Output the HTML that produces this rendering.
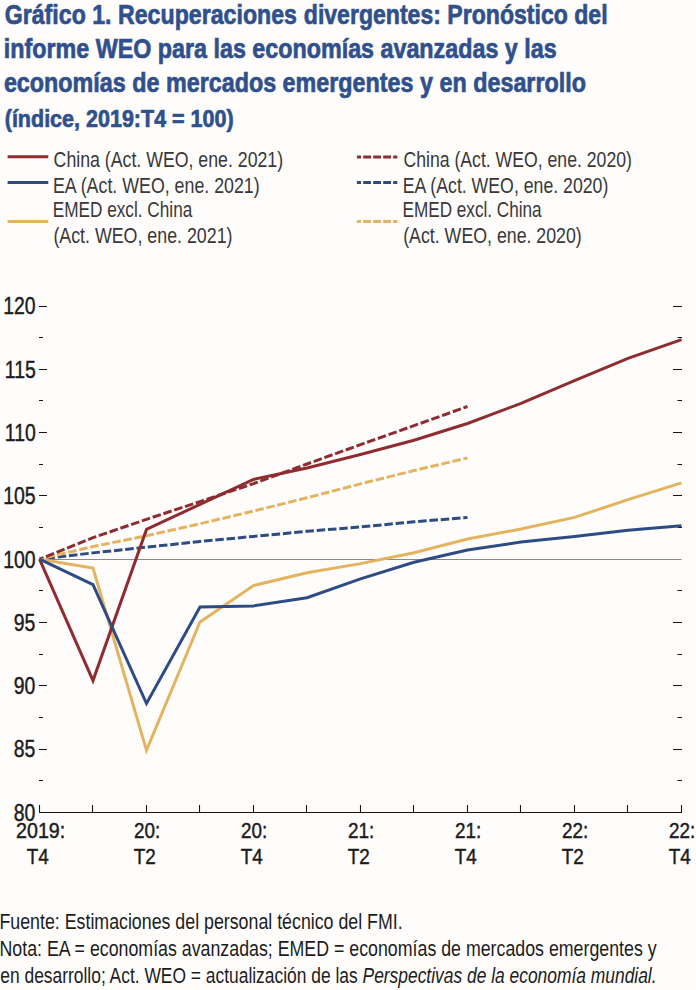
<!DOCTYPE html>
<html lang="es"><head><meta charset="utf-8"><title>Gráfico 1. Recuperaciones divergentes</title>
<style>
html,body{margin:0;padding:0;background:#fefdfc;}
body{width:696px;height:990px;overflow:hidden;}
svg{display:block;font-family:'Liberation Sans', 'DejaVu Sans', sans-serif;}
</style></head><body>
<svg width="696" height="990" viewBox="0 0 696 990">
<rect width="696" height="990" fill="#fefdfc"/>
<g stroke-width="3" fill="none">
<line x1="7.6" y1="156.8" x2="48.3" y2="156.8" stroke="#8e2c30"/>
<line x1="7.6" y1="182.4" x2="48.3" y2="182.4" stroke="#2f4b83"/>
<line x1="7.6" y1="221.4" x2="48.3" y2="221.4" stroke="#e3b35f"/>
<line x1="356.9" y1="156.9" x2="397.3" y2="156.9" stroke="#8e2c30" stroke-dasharray="7.8 2.2" stroke-dashoffset="3.7"/>
<line x1="356.9" y1="182.5" x2="397.3" y2="182.5" stroke="#2f4b83" stroke-dasharray="7.8 2.2" stroke-dashoffset="3.7"/>
<line x1="356.9" y1="221.4" x2="397.3" y2="221.4" stroke="#e3b35f" stroke-dasharray="7.8 2.2" stroke-dashoffset="3.7"/>
</g>
<line x1="39.5" y1="559.5" x2="681.5" y2="559.5" stroke="#8a8a8a" stroke-width="1"/>
<path d="M39,780.5h4 M682,780.5h-4.5 M39,749.5h8 M682,749.5h-9 M39,717.5h4 M682,717.5h-4.5 M39,685.5h8 M682,685.5h-9 M39,654.5h4 M682,654.5h-4.5 M39,622.5h8 M682,622.5h-9 M39,590.5h4 M682,590.5h-4.5 M39,527.5h4 M682,527.5h-4.5 M39,495.5h8 M682,495.5h-9 M39,464.5h4 M682,464.5h-4.5 M39,432.5h8 M682,432.5h-9 M39,400.5h4 M682,400.5h-4.5 M39,369.5h8 M682,369.5h-9 M39,337.5h4 M682,337.5h-4.5 M39,306.5h8 M682,306.5h-9 M39.5,812V805 M92.5,812V805 M146.5,812V805 M199.5,812V805 M253.5,812V805 M306.5,812V805 M360.5,812V805 M413.5,812V805 M467.5,812V805 M520.5,812V805 M574.5,812V805 M627.5,812V805 M681.5,812V805" stroke="#151515" stroke-width="1.1" fill="none"/>
<line x1="39" y1="812.5" x2="682" y2="812.5" stroke="#151515" stroke-width="1.2"/>
<g fill="none" stroke-width="3" stroke-linejoin="miter" stroke-miterlimit="10">
<polyline points="39.50,559.20 93.00,552.87 146.50,547.17 200.00,541.48 253.50,536.41 307.00,531.35 360.50,526.92 414.00,521.85 467.50,517.42" stroke="#2f4b83" stroke-dasharray="8.545 2.773" stroke-dashoffset="4.272"/>
<polyline points="39.50,559.20 93.00,546.54 146.50,535.78 200.00,523.75 253.50,511.09 307.00,497.80 360.50,483.87 414.00,470.58 467.50,457.92" stroke="#e3b35f" stroke-dasharray="8.516 2.763" stroke-dashoffset="4.258"/>
<polyline points="39.50,559.20 93.00,537.68 146.50,519.32 200.00,501.60 253.50,483.62 307.00,464.00 360.50,444.63 414.00,425.64 467.50,406.52" stroke="#8e2c30" stroke-dasharray="8.579 2.784" stroke-dashoffset="4.289"/>
<polyline points="39.50,559.20 93.00,568.06 146.50,750.37 200.00,621.99 253.50,585.53 307.00,572.75 360.50,563.63 414.00,552.74 467.50,538.94 521.00,529.07 574.50,517.42 628.00,499.70 681.50,482.86" stroke="#e3b35f"/>
<polyline points="39.50,559.20 93.00,680.61 146.50,529.45 200.00,504.38 253.50,479.44 307.00,468.05 360.50,454.50 414.00,440.20 467.50,423.48 521.00,403.36 574.50,380.69 628.00,358.29 681.50,339.68" stroke="#8e2c30"/>
<polyline points="39.50,559.20 93.00,584.65 146.50,703.52 200.00,606.93 253.50,605.92 307.00,597.69 360.50,578.82 414.00,562.24 467.50,550.08 521.00,541.98 574.50,536.54 628.00,530.21 681.50,525.78" stroke="#2f4b83"/>
</g>
<text stroke="#30508c" stroke-width="0.7" transform="translate(4.69,23.9) scale(0.8129,1)" font-size="28.5" font-weight="bold" font-style="normal" fill="#30508c">Gráfico 1. Recuperaciones</text>
<text stroke="#30508c" stroke-width="0.7" transform="translate(303.79,23.9) scale(0.8097,1)" font-size="28.5" font-weight="bold" font-style="normal" fill="#30508c">divergentes: Pronóstico del</text>
<text stroke="#30508c" stroke-width="0.7" transform="translate(3.86,57.6) scale(0.8178,1)" font-size="28.5" font-weight="bold" font-style="normal" fill="#30508c">informe WEO para las economías avanzadas y las</text>
<text stroke="#30508c" stroke-width="0.7" transform="translate(3.88,91.7) scale(0.819,1)" font-size="28.5" font-weight="bold" font-style="normal" fill="#30508c">economías de mercados emergentes y en desarrollo</text>
<text stroke="#30508c" stroke-width="0.7" transform="translate(4.72,127.4) scale(0.8784,1)" font-size="24.5" font-weight="bold" font-style="normal" fill="#30508c">(índice, 2019:T4 = 100)</text>
<text transform="translate(53.6,167.0) scale(0.7989,1)" font-size="22.2" font-weight="normal" font-style="normal" fill="#383838">China (Act. WEO, ene. 2021)</text>
<text transform="translate(53.0,192.5) scale(0.802,1)" font-size="22.2" font-weight="normal" font-style="normal" fill="#383838">EA (Act. WEO, ene. 2021)</text>
<text transform="translate(52.65,216.5) scale(0.7753,1)" font-size="22.2" font-weight="normal" font-style="normal" fill="#383838">EMED excl. China</text>
<text transform="translate(53.4,242.5) scale(0.8027,1)" font-size="22.2" font-weight="normal" font-style="normal" fill="#383838">(Act. WEO, ene. 2021)</text>
<text transform="translate(403.4,167.0) scale(0.7954,1)" font-size="22.2" font-weight="normal" font-style="normal" fill="#383838">China (Act. WEO, ene. 2020)</text>
<text transform="translate(402.8,192.5) scale(0.7976,1)" font-size="22.2" font-weight="normal" font-style="normal" fill="#383838">EA (Act. WEO, ene. 2020)</text>
<text transform="translate(402.45,216.5) scale(0.7736,1)" font-size="22.2" font-weight="normal" font-style="normal" fill="#383838">EMED excl. China</text>
<text transform="translate(403.2,242.5) scale(0.8,1)" font-size="22.2" font-weight="normal" font-style="normal" fill="#383838">(Act. WEO, ene. 2020)</text>
<text transform="translate(-0.54,928.7) scale(0.8199,1)" font-size="21.7" font-weight="normal" font-style="normal" fill="#1c1c1c">Fuente: Estimaciones del personal técnico del FMI.</text>
<text transform="translate(-0.54,956.0) scale(0.8199,1)" font-size="21.7" font-weight="normal" font-style="normal" fill="#1c1c1c">Nota: EA = economías avanzadas; EMED = economías de mercados emergentes y</text>
<text transform="translate(0.3,982.6) scale(0.8027,1)" font-size="21.7" font-weight="normal" font-style="normal" fill="#1c1c1c">en desarrollo; Act. WEO = actualización de las <tspan font-style="italic">Perspectivas de la economía mundial.</tspan></text>
<text stroke="#1c1c1c" stroke-width="0.45" transform="translate(13.74,820.7) scale(0.81,1)" font-size="24" font-weight="normal" font-style="normal" fill="#1c1c1c">80</text>
<text stroke="#1c1c1c" stroke-width="0.45" transform="translate(13.74,757.4) scale(0.81,1)" font-size="24" font-weight="normal" font-style="normal" fill="#1c1c1c">85</text>
<text stroke="#1c1c1c" stroke-width="0.45" transform="translate(13.74,694.1) scale(0.81,1)" font-size="24" font-weight="normal" font-style="normal" fill="#1c1c1c">90</text>
<text stroke="#1c1c1c" stroke-width="0.45" transform="translate(13.74,630.8) scale(0.81,1)" font-size="24" font-weight="normal" font-style="normal" fill="#1c1c1c">95</text>
<text stroke="#1c1c1c" stroke-width="0.45" transform="translate(3.21,567.5) scale(0.81,1)" font-size="24" font-weight="normal" font-style="normal" fill="#1c1c1c">100</text>
<text stroke="#1c1c1c" stroke-width="0.45" transform="translate(3.21,504.2) scale(0.81,1)" font-size="24" font-weight="normal" font-style="normal" fill="#1c1c1c">105</text>
<text stroke="#1c1c1c" stroke-width="0.45" transform="translate(4.83,440.9) scale(0.81,1)" font-size="24" font-weight="normal" font-style="normal" fill="#1c1c1c">110</text>
<text stroke="#1c1c1c" stroke-width="0.45" transform="translate(4.83,377.6) scale(0.81,1)" font-size="24" font-weight="normal" font-style="normal" fill="#1c1c1c">115</text>
<text stroke="#1c1c1c" stroke-width="0.45" transform="translate(3.21,314.3) scale(0.81,1)" font-size="24" font-weight="normal" font-style="normal" fill="#1c1c1c">120</text>
<text stroke="#1c1c1c" stroke-width="0.45" transform="translate(16.01,837.7) scale(0.8865,1)" font-size="22.2" font-weight="normal" font-style="normal" fill="#1c1c1c">2019:</text>
<text stroke="#1c1c1c" stroke-width="0.45" transform="translate(26.65,864.0) scale(0.85,1)" font-size="22.2" font-weight="normal" font-style="normal" fill="#1c1c1c">T4</text>
<text stroke="#1c1c1c" stroke-width="0.45" transform="translate(134.05,837.7) scale(0.85,1)" font-size="22.2" font-weight="normal" font-style="normal" fill="#1c1c1c">20:</text>
<text stroke="#1c1c1c" stroke-width="0.45" transform="translate(133.65,864.0) scale(0.85,1)" font-size="22.2" font-weight="normal" font-style="normal" fill="#1c1c1c">T2</text>
<text stroke="#1c1c1c" stroke-width="0.45" transform="translate(241.05,837.7) scale(0.85,1)" font-size="22.2" font-weight="normal" font-style="normal" fill="#1c1c1c">20:</text>
<text stroke="#1c1c1c" stroke-width="0.45" transform="translate(240.65,864.0) scale(0.85,1)" font-size="22.2" font-weight="normal" font-style="normal" fill="#1c1c1c">T4</text>
<text stroke="#1c1c1c" stroke-width="0.45" transform="translate(348.05,837.7) scale(0.85,1)" font-size="22.2" font-weight="normal" font-style="normal" fill="#1c1c1c">21:</text>
<text stroke="#1c1c1c" stroke-width="0.45" transform="translate(347.65,864.0) scale(0.85,1)" font-size="22.2" font-weight="normal" font-style="normal" fill="#1c1c1c">T2</text>
<text stroke="#1c1c1c" stroke-width="0.45" transform="translate(455.05,837.7) scale(0.85,1)" font-size="22.2" font-weight="normal" font-style="normal" fill="#1c1c1c">21:</text>
<text stroke="#1c1c1c" stroke-width="0.45" transform="translate(454.65,864.0) scale(0.85,1)" font-size="22.2" font-weight="normal" font-style="normal" fill="#1c1c1c">T4</text>
<text stroke="#1c1c1c" stroke-width="0.45" transform="translate(562.05,837.7) scale(0.85,1)" font-size="22.2" font-weight="normal" font-style="normal" fill="#1c1c1c">22:</text>
<text stroke="#1c1c1c" stroke-width="0.45" transform="translate(561.65,864.0) scale(0.85,1)" font-size="22.2" font-weight="normal" font-style="normal" fill="#1c1c1c">T2</text>
<text stroke="#1c1c1c" stroke-width="0.45" transform="translate(669.05,837.7) scale(0.85,1)" font-size="22.2" font-weight="normal" font-style="normal" fill="#1c1c1c">22:</text>
<text stroke="#1c1c1c" stroke-width="0.45" transform="translate(668.65,864.0) scale(0.85,1)" font-size="22.2" font-weight="normal" font-style="normal" fill="#1c1c1c">T4</text>
</svg>
</body></html>
